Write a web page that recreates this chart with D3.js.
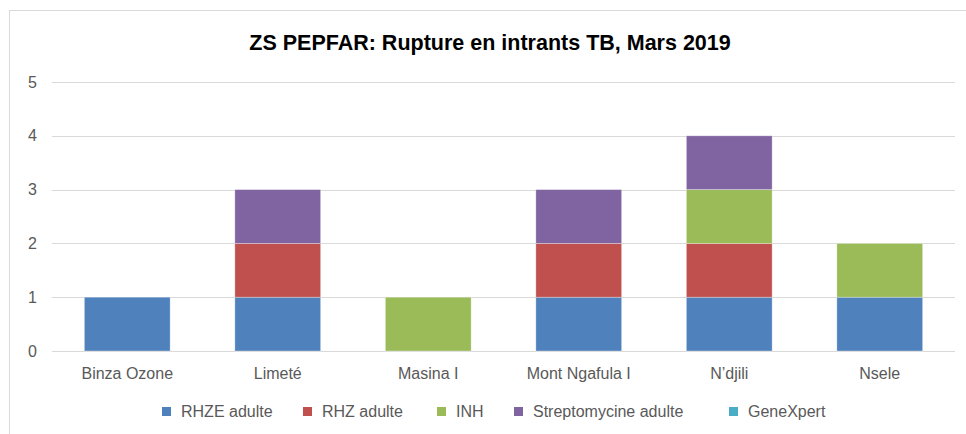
<!DOCTYPE html>
<html>
<head>
<meta charset="utf-8">
<script src="https://cdn.jsdelivr.net/npm/d3@7"></script>
<style>
  body { margin: 0; background: #fff; }
  svg { font-family: "Liberation Sans", "DejaVu Sans", sans-serif; }
</style>
</head>
<body>
<script>
"use strict";

var width = 966,
    height = 434;

// data
const zones = ["Binza Ozone", "Limeté", "Masina I", "Mont Ngafula I", "N\u2019djili", "Nsele"];
const seriesNames = ["RHZE adulte", "RHZ adulte", "INH", "Streptomycine adulte", "GeneXpert"];
const rhze = [1, 1, 0, 1, 1, 1];
const rhz = [0, 1, 0, 1, 1, 0];
const inh = [0, 0, 1, 0, 1, 1];
const strepto = [0, 1, 0, 1, 1, 0];
const genexpert = [0, 0, 0, 0, 0, 0];
const yTicks = [0, 1, 2, 3, 4, 5];
const colors = ["#4F81BD", "#C0504D", "#9BBB59", "#8064A2", "#4BACC6"];

const values = [rhze, rhz, inh, strepto, genexpert];
const rows = zones.map(function (z, i) {
    let r = { zone: z };
    seriesNames.forEach(function (s, j) { r[s] = values[j][i]; });
    return r;
});

const margin = { top: 82, right: 11, bottom: 83, left: 52 };

let svg = d3.select("body")
    .append("svg")
    .attr("width", width)
    .attr("height", height);

// chart frame
svg.append("rect")
    .attr("x", 9.5).attr("y", 10.5)
    .attr("width", width - 4).attr("height", height)
    .attr("fill", "none")
    .attr("stroke", "#d9d9d9");

svg.append("text")
    .attr("x", 490).attr("y", 50)
    .attr("text-anchor", "middle")
    .attr("font-size", 21.5)
    .attr("font-weight", "bold")
    .attr("fill", "#000")
    .text("ZS PEPFAR: Rupture en intrants TB, Mars 2019");

let x = d3.scaleBand()
    .domain(zones)
    .range([margin.left, width - margin.right])
    .paddingInner(0.43)
    .paddingOuter(0.215);

let y = d3.scaleLinear()
    .domain([0, 5])
    .range([height - margin.bottom, margin.top]);

// gridlines
svg.append("g")
    .selectAll("line")
    .data(yTicks)
    .enter()
    .append("line")
    .attr("x1", margin.left).attr("x2", width - margin.right)
    .attr("y1", d => Math.round(y(d)) + 0.5)
    .attr("y2", d => Math.round(y(d)) + 0.5)
    .attr("stroke", "#d9d9d9");

let yAxis = svg.append("g")
    .attr("transform", "translate(" + (margin.left - 15) + ",0)")
    .call(d3.axisLeft(y).tickValues(yTicks).tickFormat(d3.format("d")).tickSize(0).tickPadding(0));
yAxis.select(".domain").remove();
yAxis.selectAll("text")
    .attr("font-size", 16)
    .attr("fill", "#595959")
    .attr("font-family", "inherit");

let stack = d3.stack().keys(seriesNames);
let layers = stack(rows);

svg.append("g")
    .selectAll("g")
    .data(layers)
    .enter()
    .append("g")
    .attr("fill", (d, i) => colors[i])
    .selectAll("rect")
    .data(d => d)
    .enter()
    .append("rect")
    .attr("x", d => x(d.data.zone))
    .attr("y", d => y(d[1]))
    .attr("width", x.bandwidth())
    .attr("height", d => y(d[0]) - y(d[1]))
    .attr("stroke", "#fff")
    .attr("stroke-opacity", 0.4)
    .attr("stroke-width", 0.8);

let xAxis = svg.append("g")
    .attr("transform", "translate(0," + (height - margin.bottom) + ")")
    .call(d3.axisBottom(x).tickSize(0).tickPadding(17));
xAxis.select(".domain").remove();
xAxis.selectAll("text")
    .attr("font-size", 16)
    .attr("fill", "#595959")
    .attr("font-family", "inherit");

// legend
const legendX = [162, 303, 437, 514, 729];
let legend = svg.append("g")
    .selectAll("g")
    .data(seriesNames)
    .enter()
    .append("g")
    .attr("transform", (d, i) => "translate(" + legendX[i] + ",407)");
legend.append("rect")
    .attr("width", 9).attr("height", 9)
    .attr("fill", (d, i) => colors[i]);
legend.append("text")
    .attr("x", 19).attr("y", 10)
    .attr("font-size", 16)
    .attr("fill", "#595959")
    .text(d => d);
</script>
</body>
</html>
